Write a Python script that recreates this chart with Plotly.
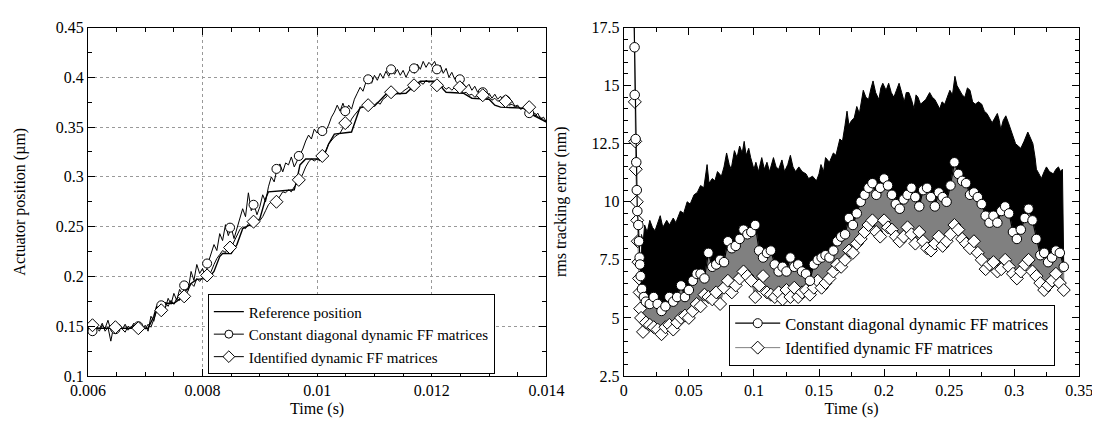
import plotly.graph_objects as go

# =====================================
# LEFT PANEL DATA  (actuator position, um)
# =====================================
T0_LEFT = 0.006
DT_LEFT = 0.00005  # sample period of the measured traces
N_LEFT = 161
t_left = [round(T0_LEFT + i * DT_LEFT, 6) for i in range(N_LEFT)]

ref_t = [0.0060, 0.00705, 0.00715, 0.0072, 0.0073, 0.0075, 0.0076, 0.0078, 0.0079, 0.0081,
         0.0082, 0.0083, 0.00835, 0.0085, 0.0086, 0.0087, 0.0088, 0.0089, 0.0090, 0.0091,
         0.00915, 0.0096, 0.00965, 0.0097, 0.0098, 0.0101, 0.0102, 0.0103, 0.0106, 0.0107,
         0.01075, 0.0110, 0.01115, 0.0112, 0.01155, 0.0117, 0.0118, 0.0121, 0.0122, 0.01225,
         0.01255, 0.0127, 0.0130, 0.0131, 0.0132, 0.0136, 0.0137, 0.0140]
ref_pos = [0.148, 0.148, 0.160, 0.170, 0.173, 0.173, 0.177, 0.193, 0.197, 0.198,
           0.205, 0.220, 0.223, 0.223, 0.232, 0.248, 0.251, 0.252, 0.258, 0.278,
           0.285, 0.287, 0.298, 0.312, 0.318, 0.318, 0.333, 0.343, 0.345, 0.362,
           0.370, 0.371, 0.380, 0.383, 0.384, 0.392, 0.396, 0.396, 0.388, 0.385,
           0.384, 0.379, 0.378, 0.372, 0.370, 0.369, 0.364, 0.355]

const_pos = [
    0.146, 0.151, 0.144, 0.150, 0.147, 0.153, 0.145, 0.149, 0.135, 0.150,
    0.146, 0.152, 0.147, 0.144, 0.150, 0.148, 0.153, 0.146, 0.150, 0.147,
    0.151, 0.145, 0.160, 0.155, 0.168, 0.163, 0.172, 0.168, 0.178, 0.172,
    0.183, 0.176, 0.187, 0.182, 0.192, 0.186, 0.205, 0.196, 0.212, 0.203,
    0.208, 0.200, 0.214, 0.222, 0.232, 0.226, 0.243, 0.236, 0.252, 0.241,
    0.249, 0.238, 0.248, 0.258, 0.268, 0.260, 0.284, 0.266, 0.272, 0.262,
    0.270, 0.282, 0.275, 0.290, 0.300, 0.295, 0.308, 0.313, 0.305, 0.314,
    0.312, 0.320, 0.310, 0.316, 0.322, 0.328, 0.336, 0.342, 0.338, 0.348,
    0.344, 0.348, 0.343, 0.346, 0.352, 0.360, 0.365, 0.372, 0.366, 0.374,
    0.366, 0.372, 0.368, 0.378, 0.384, 0.390, 0.386, 0.395, 0.398, 0.394,
    0.402, 0.397, 0.404, 0.399, 0.406, 0.401, 0.408, 0.403, 0.408, 0.402,
    0.407, 0.400, 0.406, 0.410, 0.404, 0.413, 0.408, 0.416, 0.410, 0.415,
    0.412, 0.416, 0.408, 0.412, 0.404, 0.409, 0.400, 0.405, 0.398, 0.402,
    0.397, 0.394, 0.390, 0.393, 0.387, 0.391, 0.385, 0.389, 0.385, 0.381,
    0.384, 0.379, 0.383, 0.378, 0.381, 0.376, 0.378, 0.373, 0.376, 0.371,
    0.372, 0.368, 0.370, 0.366, 0.364, 0.367, 0.361, 0.364, 0.358, 0.360,
    0.355]

ident_pos = [
    0.150, 0.146, 0.152, 0.148, 0.145, 0.151, 0.148, 0.156, 0.146, 0.149,
    0.144, 0.150, 0.147, 0.152, 0.146, 0.149, 0.151, 0.145, 0.148, 0.150,
    0.147, 0.152, 0.149, 0.158, 0.165, 0.170, 0.168, 0.174, 0.170, 0.176,
    0.172, 0.178, 0.176, 0.183, 0.180, 0.186, 0.193, 0.190, 0.198, 0.195,
    0.199, 0.196, 0.201, 0.205, 0.212, 0.218, 0.222, 0.226, 0.224, 0.231,
    0.229, 0.235, 0.240, 0.247, 0.250, 0.248, 0.253, 0.251, 0.255, 0.253,
    0.256, 0.260, 0.266, 0.272, 0.275, 0.273, 0.276, 0.281, 0.285, 0.284,
    0.287, 0.285, 0.290, 0.293, 0.297, 0.303, 0.310, 0.315, 0.318, 0.316,
    0.318, 0.316, 0.321, 0.326, 0.333, 0.337, 0.340, 0.342, 0.344, 0.349,
    0.354, 0.351, 0.358, 0.362, 0.365, 0.369, 0.370, 0.373, 0.372, 0.370,
    0.372, 0.375, 0.373, 0.378, 0.380, 0.384, 0.385, 0.382, 0.385, 0.383,
    0.386, 0.388, 0.390, 0.387, 0.392, 0.390, 0.395, 0.393, 0.397, 0.395,
    0.396, 0.393, 0.392, 0.389, 0.391, 0.388, 0.390, 0.387, 0.390, 0.386,
    0.388, 0.384, 0.385, 0.382, 0.383, 0.380, 0.382, 0.379, 0.381, 0.378,
    0.380, 0.377, 0.379, 0.376, 0.377, 0.374, 0.376, 0.372, 0.373, 0.370,
    0.371, 0.368, 0.369, 0.366, 0.366, 0.363, 0.364, 0.360, 0.360, 0.357,
    0.355]

# marker positions (every 0.4 ms)
mk_t = [0.00608, 0.00648, 0.00688, 0.00728, 0.00768, 0.00808, 0.00848, 0.00889, 0.00929, 0.00968,
        0.01009, 0.01049, 0.01089, 0.01129, 0.01169, 0.01209, 0.01249, 0.01289, 0.01329, 0.01370]
const_mk = [0.145, 0.147, 0.150, 0.171, 0.191, 0.213, 0.249, 0.272, 0.308, 0.321,
            0.346, 0.366, 0.398, 0.408, 0.409, 0.408, 0.398, 0.385, 0.377, 0.364]
ident_mk = [0.151, 0.149, 0.148, 0.166, 0.180, 0.201, 0.229, 0.255, 0.275, 0.297,
            0.321, 0.354, 0.372, 0.385, 0.392, 0.392, 0.390, 0.382, 0.376, 0.370]

# =====================================
# RIGHT PANEL DATA  (rms tracking error, nm)
# =====================================
# initial transient
spike_c_t = [0.0078, 0.0083, 0.0084, 0.0091, 0.0096, 0.0100, 0.0104, 0.0112, 0.0117, 0.0122,
             0.0125, 0.0130, 0.0140, 0.0154]
spike_c_v = [18.3, 16.65, 14.6, 12.7, 11.7, 10.5, 9.6, 9.0, 8.3, 7.6,
             7.3, 6.8, 6.25, 5.9]
spike_d_t = [0.0080, 0.0085, 0.0088, 0.0092, 0.0100, 0.0103, 0.0107, 0.0113, 0.0117, 0.0122,
             0.0126, 0.0133, 0.0148]
spike_d_v = [18.3, 14.3, 12.6, 11.4, 10.0, 9.2, 8.3, 7.4, 6.7, 6.1,
             5.4, 5.0, 4.4]

T0_RIGHT = 0.017
DT_RIGHT = 0.003
rms_const = [
    5.7, 5.6, 5.9, 5.6, 5.3, 5.5, 5.9, 5.7, 5.9, 6.4,
    5.9, 6.2, 6.6, 6.9, 6.9, 6.7, 7.8, 7.2, 7.3, 7.5,
    7.4, 8.3, 8.0, 8.1, 8.4, 8.8, 8.6, 8.7, 9.0, 7.9,
    7.6, 7.8, 7.9, 7.3, 7.0, 7.2, 7.0, 7.6, 7.2, 7.3,
    7.0, 6.9, 6.6, 7.3, 7.5, 7.6, 7.7, 7.6, 7.9, 8.3,
    8.5, 8.6, 9.3, 9.0, 9.5, 10.0, 10.3, 10.6, 10.8, 10.3,
    10.6, 11.0, 10.7, 10.3, 9.9, 9.7, 10.1, 10.3, 10.6, 10.2,
    9.8, 10.5, 10.6, 10.2, 9.8, 10.4, 10.2, 10.0, 10.7, 11.7,
    11.2, 10.9, 10.8, 10.3, 10.4, 10.2, 9.9, 9.4, 9.1, 9.4,
    9.1, 9.6, 9.8, 9.5, 8.7, 8.4, 8.8, 9.3, 9.7, 9.2,
    8.4, 7.7, 7.8, 7.4, 7.6, 7.9, 7.8, 7.2]
rms_ident = [
    4.8, 4.7, 4.6, 4.5, 4.3, 4.6, 4.7, 4.5, 4.8, 5.0,
    5.1, 5.0, 5.3, 5.6, 5.5, 6.0, 5.9, 5.8, 6.1, 5.6,
    6.3, 6.6, 6.1, 6.4, 6.7, 7.0, 6.8, 6.6, 5.9, 6.4,
    6.8, 6.1, 6.0, 5.9, 6.1, 5.8, 6.2, 5.9, 6.3, 5.9,
    6.1, 6.2, 6.0, 6.3, 6.6, 6.3, 6.5, 6.7, 7.0, 7.3,
    7.2, 7.5, 7.9, 7.8, 8.2, 8.4, 8.7, 9.0, 9.2, 8.7,
    8.5, 9.2, 8.9, 8.8, 8.5, 8.3, 8.5, 8.9, 8.6, 8.2,
    8.7, 8.3, 8.0, 7.9, 8.2, 8.5, 8.1, 8.3, 8.6, 9.0,
    8.8, 8.4, 8.2, 8.0, 8.3, 7.8, 7.5, 7.1, 7.3, 7.4,
    7.0, 7.1, 7.5, 7.2, 6.9, 6.7, 7.0, 7.3, 7.5, 7.0,
    6.8, 6.5, 6.2, 6.4, 6.6, 6.9, 6.5, 6.2]
t_right = [round(T0_RIGHT + i * DT_RIGHT, 4) for i in range(len(rms_const))]

# upper envelope of the raw (fast oscillating) constant-diagonal error
up_t = [0.0135, 0.0150, 0.0160, 0.0180, 0.0200, 0.0220, 0.0240, 0.0260, 0.0280, 0.0300,
        0.0330, 0.0350, 0.0380, 0.0400, 0.0435, 0.0460, 0.0487, 0.0510, 0.0540, 0.0565,
        0.0590, 0.0615, 0.0640, 0.0655, 0.0680, 0.0700, 0.0720, 0.0750, 0.0770, 0.0790,
        0.0810, 0.0825, 0.0850, 0.0870, 0.0890, 0.0910, 0.0925, 0.0940, 0.0960, 0.0975,
        0.1000, 0.1015, 0.1035, 0.1060, 0.1080, 0.1100, 0.1120, 0.1150, 0.1170, 0.1190,
        0.1215, 0.1235, 0.1260, 0.1280, 0.1300, 0.1320, 0.1345, 0.1370, 0.1400, 0.1420,
        0.1450, 0.1480, 0.1500, 0.1515, 0.1535, 0.1550, 0.1580, 0.1610, 0.1630, 0.1660,
        0.1680, 0.1700, 0.1715, 0.1730, 0.1750, 0.1770, 0.1790, 0.1810, 0.1840, 0.1860,
        0.1880, 0.1900, 0.1915, 0.1935, 0.1960, 0.1975, 0.1990, 0.2015, 0.2035, 0.2055,
        0.2075, 0.2095, 0.2115, 0.2135, 0.2155, 0.2170, 0.2190, 0.2210, 0.2230, 0.2245,
        0.2260, 0.2280, 0.2297, 0.2320, 0.2350, 0.2370, 0.2390, 0.2410, 0.2427, 0.2445,
        0.2466, 0.2485, 0.2505, 0.2525, 0.2544, 0.2560, 0.2580, 0.2600, 0.2620, 0.2640,
        0.2660, 0.2680, 0.2700, 0.2725, 0.2750, 0.2770, 0.2790, 0.2810, 0.2830, 0.2850,
        0.2870, 0.2885, 0.2896, 0.2915, 0.2935, 0.2955, 0.2974, 0.2990, 0.3010, 0.3030,
        0.3050, 0.3075, 0.3090, 0.3104, 0.3120, 0.3143, 0.3160, 0.3170, 0.3190, 0.3208,
        0.3230, 0.3247, 0.3270, 0.3300, 0.3320, 0.3339, 0.3355, 0.3370]
up_v = [8.6, 8.3, 9.0, 8.7, 9.2, 8.9, 8.75, 9.1, 9.4, 8.9,
        9.2, 9.0, 9.3, 9.1, 9.6, 9.5, 10.0, 9.9, 10.3, 10.4,
        10.7, 10.6, 11.6, 10.8, 11.0, 10.9, 11.3, 11.1, 11.5, 12.1,
        11.6, 11.4, 12.2, 11.9, 12.4, 12.1, 12.6, 12.0, 12.3, 11.9,
        11.4, 11.7, 11.3, 11.9, 11.4, 11.7, 11.3, 11.9, 11.5, 11.4,
        11.8, 11.3, 11.6, 12.0, 11.5, 11.3, 11.5, 11.3, 11.2, 11.0,
        11.1, 10.9, 11.2, 11.6, 11.3, 11.9, 11.7, 12.1, 12.0, 12.7,
        12.6, 13.3, 13.9, 13.3, 13.5, 13.6, 14.1, 13.8, 14.8, 14.5,
        14.4, 14.9, 15.2, 14.7, 14.4, 14.9, 15.1, 14.8, 15.1, 14.7,
        14.5, 14.8, 15.1, 14.7, 14.3, 14.7, 14.7, 14.4, 14.0, 14.6,
        14.5, 14.2, 14.3, 14.4, 14.7, 14.5, 14.4, 14.2, 14.0, 14.3,
        14.2, 14.5, 14.8, 14.6, 15.4, 15.0, 14.8, 14.6, 14.5, 14.9,
        14.8, 14.3, 14.2, 14.3, 14.2, 13.9, 13.8, 13.6, 13.4, 13.6,
        13.8, 13.5, 13.1, 13.5, 13.7, 13.4, 13.1, 12.8, 12.5, 12.4,
        12.3, 12.6, 12.8, 13.0, 12.8, 12.5, 11.9, 11.4, 11.2, 11.0,
        11.3, 11.5, 11.3, 11.2, 11.4, 11.5, 11.3, 11.4]

# =====================================
# STYLE
# =====================================
FONT = "'Liberation Serif', 'Times New Roman', Times, serif"
GRAY = "#808080"
LEG_C = "Constant diagonal dynamic FF matrices"
LEG_I = "Identified dynamic FF matrices"


def axis_style(**kw):
    d = dict(showline=True, linecolor="black", linewidth=1, mirror="allticks",
             ticks="inside", ticklen=7, tickcolor="black", zeroline=False,
             tickfont=dict(family=FONT, size=16, color="black"),
             title_font=dict(family=FONT, size=16, color="black"))
    d.update(kw)
    return d


fig = go.Figure()

# ---------- left panel ----------
fig.add_trace(go.Scatter(x=ref_t, y=ref_pos, mode="lines", line=dict(color="black", width=1.4),
                         showlegend=False, xaxis="x", yaxis="y"))
fig.add_trace(go.Scatter(x=t_left, y=const_pos, mode="lines", line=dict(color="black", width=1),
                         showlegend=False, xaxis="x", yaxis="y"))
fig.add_trace(go.Scatter(x=t_left, y=ident_pos, mode="lines", line=dict(color="black", width=1),
                         showlegend=False, xaxis="x", yaxis="y"))
fig.add_trace(go.Scatter(x=mk_t, y=const_mk, mode="markers",
                         marker=dict(symbol="circle", size=9, color="white", line=dict(color="black", width=1)),
                         showlegend=False, xaxis="x", yaxis="y"))
fig.add_trace(go.Scatter(x=mk_t, y=ident_mk, mode="markers",
                         marker=dict(symbol="diamond", size=10, color="white", line=dict(color="black", width=1)),
                         showlegend=False, xaxis="x", yaxis="y"))
# legend entries
fig.add_trace(go.Scatter(x=[None], y=[None], mode="lines", name="Reference position",
                         line=dict(color="black", width=1.4), legend="legend", xaxis="x", yaxis="y"))
fig.add_trace(go.Scatter(x=[None], y=[None], mode="lines+markers", name=LEG_C,
                         line=dict(color="black", width=1),
                         marker=dict(symbol="circle", size=8, color="white", line=dict(color="black", width=1)),
                         legend="legend", xaxis="x", yaxis="y"))
fig.add_trace(go.Scatter(x=[None], y=[None], mode="lines+markers", name=LEG_I,
                         line=dict(color="black", width=1),
                         marker=dict(symbol="diamond", size=9, color="white", line=dict(color="black", width=1)),
                         legend="legend", xaxis="x", yaxis="y"))

# ---------- right panel ----------
c_t = spike_c_t + t_right
c_v = spike_c_v + rms_const
d_t = spike_d_t + t_right
d_v = spike_d_v + rms_ident

# black band: upper envelope down to the constant-diagonal points
lo = [(t, v) for t, v in zip(c_t, c_v) if t >= 0.013]
fig.add_trace(go.Scatter(x=up_t + [p[0] for p in lo[::-1]], y=up_v + [p[1] for p in lo[::-1]],
                         fill="toself", fillcolor="black", mode="lines",
                         line=dict(color="black", width=1), showlegend=False,
                         xaxis="x2", yaxis="y2"))
# gray band between the two controllers
c_hi = [(t, v) for t, v in zip(c_t, c_v) if t >= 0.014]
d_lo = [(t, v) for t, v in zip(d_t, d_v) if t >= 0.0133]
fig.add_trace(go.Scatter(x=[p[0] for p in c_hi] + [p[0] for p in d_lo[::-1]],
                         y=[p[1] for p in c_hi] + [p[1] for p in d_lo[::-1]],
                         fill="toself", fillcolor=GRAY, mode="lines",
                         line=dict(color=GRAY, width=1), showlegend=False,
                         xaxis="x2", yaxis="y2"))
fig.add_trace(go.Scatter(x=d_t, y=d_v, mode="lines+markers", name=LEG_I,
                         line=dict(color=GRAY, width=1),
                         marker=dict(symbol="diamond", size=10, color="white", line=dict(color="black", width=1)),
                         showlegend=False, xaxis="x2", yaxis="y2"))
fig.add_trace(go.Scatter(x=c_t, y=c_v, mode="lines+markers", name=LEG_C,
                         line=dict(color="black", width=1.2),
                         marker=dict(symbol="circle", size=9.5, color="white", line=dict(color="black", width=1)),
                         showlegend=False, xaxis="x2", yaxis="y2"))
fig.add_trace(go.Scatter(x=[None], y=[None], mode="lines+markers", name=LEG_C,
                         line=dict(color="black", width=1.2),
                         marker=dict(symbol="circle", size=9, color="white", line=dict(color="black", width=1)),
                         legend="legend2", xaxis="x2", yaxis="y2"))
fig.add_trace(go.Scatter(x=[None], y=[None], mode="lines+markers", name=LEG_I,
                         line=dict(color=GRAY, width=1),
                         marker=dict(symbol="diamond", size=10, color="white", line=dict(color="black", width=1)),
                         legend="legend2", xaxis="x2", yaxis="y2"))

legend_style = dict(bgcolor="white", bordercolor="black", borderwidth=1,
                    xanchor="left", yanchor="top", tracegroupgap=0)

fig.update_layout(
    width=1100, height=425,
    margin=dict(l=0, r=0, t=0, b=0),
    paper_bgcolor="white", plot_bgcolor="white",
    font=dict(family=FONT, size=15, color="black"),
    xaxis=axis_style(domain=[64 / 1100, 538 / 1100], range=[0.006, 0.014], tick0=0.006, dtick=0.002,
                     showgrid=True, gridcolor="#999999", griddash="dot", gridwidth=1,
                     minor=dict(ticks="inside", ticklen=4, tickcolor="black", dtick=0.0005, showgrid=False),
                     title=dict(text="Time (s)", standoff=4), anchor="y"),
    yaxis=axis_style(domain=[50 / 425, 413 / 425], range=[0.1, 0.45], tick0=0.1, dtick=0.05,
                     showgrid=True, gridcolor="#999999", griddash="dot", gridwidth=1,
                     minor=dict(ticks="inside", ticklen=4, tickcolor="black", dtick=0.025, showgrid=False),
                     title=dict(text="Actuator position (µm)", standoff=26), anchor="x"),
    xaxis2=axis_style(domain=[618 / 1100, 1089 / 1100], range=[0, 0.35], tick0=0, dtick=0.05,
                      showgrid=False,
                      minor=dict(ticks="inside", ticklen=4, tickcolor="black", dtick=0.025, showgrid=False),
                      title=dict(text="Time (s)", standoff=4), anchor="y2"),
    yaxis2=axis_style(domain=[50 / 425, 413 / 425], range=[2.5, 17.5], tick0=2.5, dtick=2.5,
                      showgrid=False,
                      minor=dict(ticks="inside", ticklen=4, tickcolor="black", dtick=0.5, showgrid=False),
                      title=dict(text="rms tracking error (nm)", standoff=20), anchor="x2"),
    legend=dict(x=188 / 1100, y=(425 - 290) / 425, itemwidth=30,
                font=dict(family=FONT, size=15, color="black"), **legend_style),
    legend2=dict(x=727 / 1100, y=(425 - 301) / 425, itemwidth=45,
                 font=dict(family=FONT, size=16.5, color="black"), **legend_style),
)

fig.write_html("out.html")
